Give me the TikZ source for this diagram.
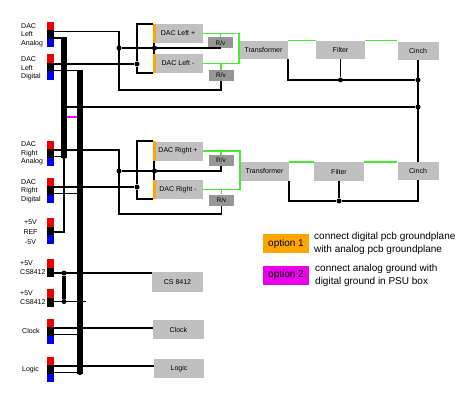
\documentclass[tikz,border=0pt]{standalone}
\usepackage{fontspec}
\setmainfont{Liberation Sans}
\definecolor{boxgray}{RGB}{192,192,192}
\definecolor{rvgray}{RGB}{150,150,150}
\definecolor{wiregreen}{RGB}{70,235,50}
\definecolor{pinred}{RGB}{240,0,0}
\definecolor{pinblue}{RGB}{0,0,240}
\definecolor{optorange}{RGB}{255,165,0}
\definecolor{optmagenta}{RGB}{235,0,235}
\begin{document}
\begin{tikzpicture}[x=1pt, y=-1pt,
 box/.style={fill=boxgray, minimum width=50pt, minimum height=19pt, inner sep=0pt, font=\fontsize{7}{8}\selectfont},
 rv/.style={fill=rvgray, minimum width=25pt, minimum height=11pt, inner sep=0pt, font=\fontsize{6.5}{7}\selectfont},
 pin/.style={minimum width=7pt, minimum height=8.5pt, inner sep=0pt},
 lbl/.style={anchor=west, align=left, inner sep=0pt, font=\fontsize{7}{8.5}\selectfont},
 wire/.style={line width=1.7pt},
 bus/.style={line width=6pt},
 grn/.style={line width=1.4pt, wiregreen},
 ostrip/.style={line width=3pt, optorange},
 dot/.style={circle, fill, minimum size=5pt, inner sep=0pt},
 key/.style={minimum width=46pt, minimum height=19pt, inner sep=0pt, font=\fontsize{10}{12}\selectfont},
 note/.style={anchor=west, align=left, inner sep=0pt, font=\fontsize{10}{13}\selectfont}]
\fill[white] (0,0) rectangle (474,404);
\useasboundingbox (0,0) rectangle (474,404);
% connectors
\node[pin, fill=pinred] (lar) at (50,26.25){};
\node[pin, fill] (lak) at (50,34.75){};
\node[pin, fill=pinblue] (lab) at (50,43.25){};
\node[pin, fill=pinred] (ldr) at (50,58.75){};
\node[pin, fill] (ldk) at (50,67.25){};
\node[pin, fill=pinblue] (ldb) at (50,75.75){};
\node[pin, fill=pinred] (rar) at (50,144.75){};
\node[pin, fill] (rak) at (50,153.25){};
\node[pin, fill=pinblue] (rab) at (50,161.75){};
\node[pin, fill=pinred] (rdr) at (50,181.75){};
\node[pin, fill] (rdk) at (50,190.25){};
\node[pin, fill=pinblue] (rdb) at (50,198.75){};
\node[pin, fill=pinred] (refr) at (50,222.25){};
\node[pin, fill] (refk) at (50,230.75){};
\node[pin, fill=pinblue] (refb) at (50,239.25){};
\node[pin, fill=pinred] (csar) at (50,263.25){};
\node[pin, fill, minimum height=9pt] (csak) at (50,272){};
\node[pin, fill=pinred] (csbr) at (50,293.25){};
\node[pin, fill, minimum height=9pt] (csbk) at (50,302){};
\node[pin, fill=pinred] (ckr) at (50,322.75){};
\node[pin, fill] (ckk) at (50,331.25){};
\node[pin, fill=pinblue] (ckb) at (50,339.75){};
\node[pin, fill=pinred] (lgr) at (50,360.75){};
\node[pin, fill] (lgk) at (50,369.25){};
\node[pin, fill=pinblue] (lgb) at (50,377.75){};
\node[lbl] (tla) at (21,35){DAC\\Left\\Analog};
\node[lbl] (tld) at (21,68.5){DAC\\Left\\Digital};
\node[lbl] (tra) at (21,153.5){DAC\\Right\\Analog};
\node[lbl] (trd) at (21,191){DAC\\Right\\Digital};
\node[lbl, anchor=center, align=center, font=\fontsize{7}{10}\selectfont] (tref) at (30.5,232){+5V\\REF\\-5V};
\node[lbl, font=\fontsize{7}{9}\selectfont] (tcsa) at (20,267.5){+5V\\CS8412};
\node[lbl, font=\fontsize{7}{9}\selectfont] (tcsb) at (20,297.5){+5V\\CS8412};
\node[lbl] (tck) at (22,331){Clock};
\node[lbl] (tlg) at (22,370){Logic};
% boxes
\node[box] (dlp) at (178,33.5){DAC Left +};
\node[box] (dlm) at (178,63.5){DAC Left -};
\node[rv] (rv1) at (220.5,43){R/v};
\node[rv] (rv2) at (221,75.5){R/v};
\node[box, minimum width=49pt, minimum height=18pt] (trl) at (263.5,50){Transformer};
\node[box, minimum width=49pt, minimum height=18pt] (fil) at (340.5,50){Filter};
\node[box, minimum width=41pt, minimum height=18pt] (cil) at (418,51){Cinch};
\node[box] (drp) at (178,151){DAC Right +};
\node[box] (drm) at (178,189.5){DAC Right -};
\node[rv] (rv3) at (221,160.5){R/v};
\node[rv] (rv4) at (221.5,200){R/v};
\node[box, minimum width=49pt] (trr) at (264.5,171.5){Transformer};
\node[box] (fir) at (339,171.5){Filter};
\node[box, minimum width=41pt, minimum height=18pt] (cir) at (418,171){Cinch};
\node[box, minimum width=51pt, minimum height=20pt] (cs) at (177.5,282){CS 8412};
\node[box, minimum width=51pt] (clk) at (178.5,329.5){Clock};
\node[box] (lgc) at (179,368.5){Logic};
\node[key, fill=optorange] (o1) at (286,243.5){option 1};
\node[key, fill=optmagenta] (o2) at (286,275){option 2};
\node[note] (n1) at (314,243.5){connect digital pcb groundplane\\with analog pcb groundplane};
\node[note] (n2) at (315,275){connect analog ground with\\digital ground in PSU box};
% wire ends and joints
\coordinate (la1) at (53.5,31.5);
\coordinate (la2) at (53.5,38);
\coordinate (ld1) at (53.5,64);
\coordinate (ld2) at (53.5,70.5);
\coordinate (ra1) at (53.5,150);
\coordinate (ra2) at (53.5,156.5);
\coordinate (rd1) at (53.5,187);
\coordinate (rd2) at (53.5,193.5);
\coordinate (ref1) at (53.5,232);
\coordinate (csa1) at (53.5,273);
\coordinate (csb1) at (53.5,301.5);
\coordinate (ck1) at (53.5,328);
\coordinate (ck2) at (53.5,334.5);
\coordinate (lg1) at (53.5,366);
\coordinate (lg2) at (53.5,372.5);
\coordinate (lbt) at (64,37.2);
\coordinate (lbb) at (64,158);
\coordinate (rbt) at (80,69.7);
\coordinate (rbb) at (80,373.5);
\coordinate (c1) at (119,90);
\coordinate (c2) at (119,214);
\coordinate (csbe) at (86,301.5);
\coordinate (m1) at (67,117);
\coordinate (m2) at (77,117);
\node[dot] (j1) at (119,48){};
\node[dot] (j2) at (137,64){};
\node[dot] (j3) at (154.5,48){};
\node[dot] (j4) at (340.5,80){};
\node[dot] (j5) at (418,80){};
\node[dot] (j6) at (418,107){};
\node[dot] (j7) at (64,107){};
\node[dot] (j8) at (339,201){};
\node[dot] (j9) at (64,156.5){};
\node[dot] (j10) at (119,171){};
\node[dot] (j11) at (137,187){};
\node[dot] (j12) at (154.5,171){};
\node[dot] (j13) at (80,193.5){};
\node[dot] (j14) at (64,273){};
\node[dot] (j15) at (64,301.5){};
\node[dot] (j16) at (80,301.5){};
\node[dot] (j17) at (80,334.5){};
\node[dot] (j18) at (80,372.5){};
% left channel
\draw[wire] (la1) -| (c1) -| (rv2.south);
\draw[wire] (j1) -| (rv1.south);
\draw[wire] (dlp.north west) -| (j2) |- (dlm.south west);
\draw[wire] (ld1) -- (j2);
\draw[wire] ([xshift=1.5pt]dlp.south west) -- ([xshift=1.5pt]dlm.north west);
\draw[ostrip] ([xshift=1.5pt]dlp.north west) -- ([xshift=1.5pt]dlp.south west);
\draw[ostrip] ([xshift=1.5pt]dlm.north west) -- ([xshift=1.5pt]dlm.south west);
\draw[grn] (dlp.east) -- (dlp.east -| trl.west) -- (dlm.east -| trl.west) -- (dlm.east);
\draw[grn] (rv1.north) -- (rv1.north |- dlp.east);
\draw[grn] (rv2.north) -- (rv2.north |- dlm.east);
\draw[grn] (trl.north east) -- (fil.north west);
\draw[grn] (fil.north east) -- (fil.north east -| cil.west);
\draw[wire] (trl.south east) |- (j5);
\draw[wire] (fil.south) -- (j4);
\draw[wire] (cil.south) -- (cir.north);
\draw[wire] (j7) -- (j6);
% right channel
\draw[wire] (ra1) -| (c2) -| (rv4.south);
\draw[wire] (j10) -| (rv3.south);
\draw[wire] (drp.north west) -| (j11) |- (drm.south west);
\draw[wire] (rd1) -- (j11);
\draw[wire] ([xshift=1.5pt]drp.south west) -- ([xshift=1.5pt]drm.north west);
\draw[ostrip] ([xshift=1.5pt]drp.north west) -- ([xshift=1.5pt]drp.south west);
\draw[ostrip] ([xshift=1.5pt]drm.north west) -- ([xshift=1.5pt]drm.south west);
\draw[grn] (drp.east) -- (drp.east -| trr.west) -- (drm.east -| trr.west) -- (drm.east);
\draw[grn] (rv3.north) -- (rv3.north |- drp.east);
\draw[grn] (rv4.north) -- (rv4.north |- drm.east);
\draw[grn] (trr.north east) -- (fir.north west);
\draw[grn] (fir.north east) -- (fir.north east -| cir.west);
\draw[wire] (trr.south east) |- (j8) -| (cir.south);
\draw[wire] (fir.south) -- (j8);
% buses
\draw[bus] (lbt) -- (lbb);
\draw[bus] (rbt) -- (rbb);
\draw[wire] (la2) -- (la2 -| lbt);
\draw[wire] (ld2) -- (ld2 -| rbt);
\draw[wire] (ra2) -- (j9);
\draw[wire] (rd2) -- (j13);
\draw[wire] (lbb) |- (ref1);
\draw[line width=2.5pt, optmagenta] (m1) -- (m2);
\draw[wire] (csa1) -- (csa1 -| cs.west);
\draw[line width=4pt] (j14) -- (j15);
\draw[wire] (csb1) -- (csbe);
\draw[wire] (ck1) -- (ck1 -| clk.west);
\draw[wire] (ck2) -- (j17);
\draw[wire] (lg1) -- (lg1 -| lgc.west);
\draw[wire] (lg2) -- (j18);
\end{tikzpicture}
\end{document}
